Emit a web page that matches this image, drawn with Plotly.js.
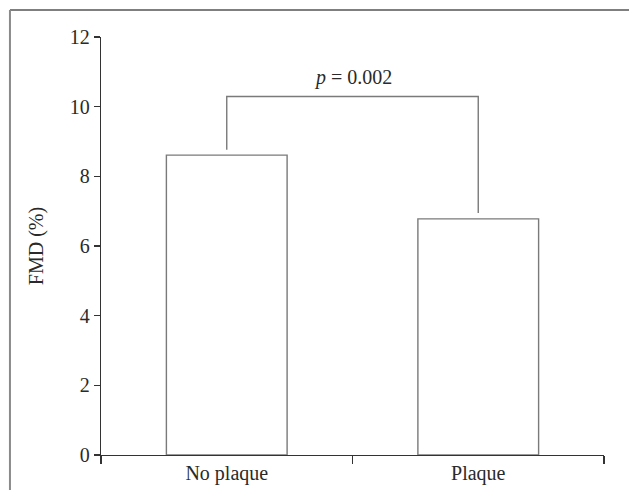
<!DOCTYPE html>
<html>
<head>
<meta charset="utf-8">
<script src="https://cdn.plot.ly/plotly-3.0.1.min.js"></script>
<style>html,body{margin:0;padding:0;background:#fff;}#chart{width:629px;height:490px;}</style>
</head>
<body>
<div id="chart"></div>
<script>
const categories = ["No plaque", "Plaque"];
const fmdValues = [8.61, 6.78];
const bracketX = ["No plaque", "No plaque", "Plaque", "Plaque"];
const bracketY = [8.76, 10.29, 10.29, 6.95];
const pLabel = "<i>p</i> = 0.002";
const pLabelY = 10.85;
const yTickVals = [0, 2, 4, 6, 8, 10, 12];

const font = "Liberation Serif, Times New Roman, serif";

const traces = [
  {
    type: "bar",
    x: categories,
    y: fmdValues,
    width: 0.48,
    marker: {color: "#ffffff", line: {color: "#7a7a7a", width: 1.4}},
    hoverinfo: "skip",
    showlegend: false
  },
  {
    type: "scatter",
    mode: "lines",
    x: bracketX,
    y: bracketY,
    line: {color: "#7a7a7a", width: 1.4},
    hoverinfo: "skip",
    showlegend: false
  }
];

const layout = {
  width: 629,
  height: 490,
  margin: {l: 101, r: 25, t: 37, b: 35},
  paper_bgcolor: "#ffffff",
  plot_bgcolor: "#ffffff",
  font: {family: font, size: 20, color: "#2a2a2a"},
  showlegend: false,
  xaxis: {
    type: "category",
    range: [-0.5, 1.5],
    tickson: "boundaries",
    ticks: "outside",
    ticklen: 8,
    tickwidth: 1.2,
    tickcolor: "#333333",
    showline: true,
    linecolor: "#333333",
    linewidth: 1.2,
    showgrid: false,
    zeroline: false,
    fixedrange: true,
    tickfont: {family: font, size: 20, color: "#2a2a2a"}
  },
  yaxis: {
    range: [0, 12],
    tickvals: yTickVals,
    ticks: "outside",
    ticklen: 6,
    tickwidth: 1.2,
    tickcolor: "#333333",
    showline: true,
    linecolor: "#333333",
    linewidth: 1.2,
    showgrid: false,
    zeroline: false,
    fixedrange: true,
    tickfont: {family: font, size: 20, color: "#2a2a2a"},
    title: {text: "FMD (%)", standoff: 20, font: {family: font, size: 20, color: "#2a2a2a"}}
  },
  annotations: [
    {
      x: 0.5, xref: "x", y: pLabelY, yref: "y",
      text: pLabel, showarrow: false,
      font: {family: font, size: 20, color: "#2a2a2a"},
      xanchor: "center", yanchor: "middle"
    }
  ],
  shapes: [
    {type: "line", xref: "paper", yref: "paper", x0: -0.181, x1: 1.06, y0: 1.0646, y1: 1.0646, line: {color: "#555555", width: 1.5}},
    {type: "line", xref: "paper", yref: "paper", x0: -0.181, x1: -0.181, y0: 1.0646, y1: -0.1, line: {color: "#8a8a8a", width: 2}}
  ]
};

Plotly.newPlot("chart", traces, layout, {displayModeBar: false, staticPlot: true});
</script>
</body>
</html>
